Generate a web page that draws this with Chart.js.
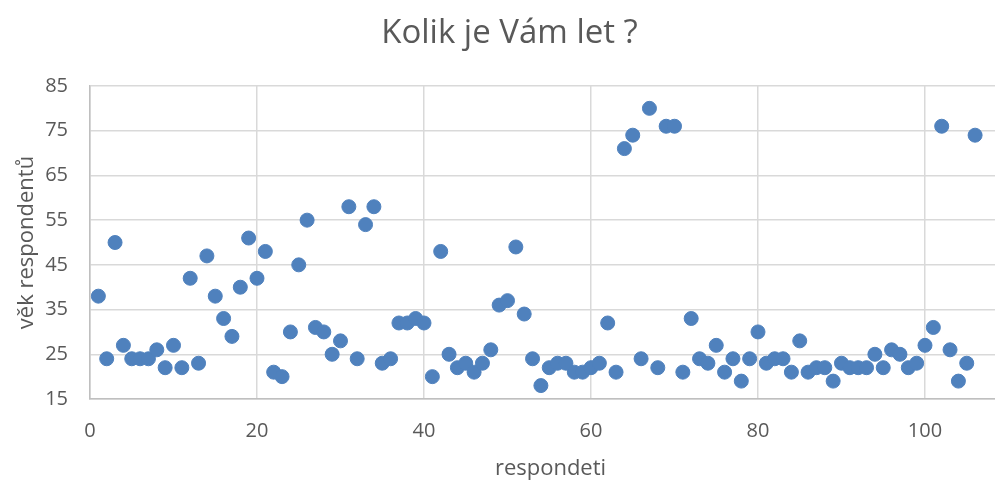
<!DOCTYPE html>
<html>
<head>
<meta charset="utf-8">
<script src="https://cdn.jsdelivr.net/npm/chart.js@4"></script>
<style>
html,body{margin:0;padding:0;background:#fff;overflow:hidden}
#wrap{width:995px;height:481px;overflow:hidden;position:relative}
#c{display:block}
</style>
</head>
<body>
<div id="wrap"><canvas id="c" width="1019" height="481"></canvas></div>
<script>
const chartTitle = 'Kolik je Vám let ?';
const xAxisTitle = 'respondeti';
const yAxisTitle = 'věk respondentů';

const respondents = [
  1,2,3,4,5,6,7,8,9,10,
  11,12,13,14,15,16,17,18,19,20,
  21,22,23,24,25,26,27,28,29,30,
  31,32,33,34,35,36,37,38,39,40,
  41,42,43,44,45,46,47,48,49,50,
  51,52,53,54,55,56,57,58,59,60,
  61,62,63,64,65,66,67,68,69,70,
  71,72,73,74,75,76,77,78,79,80,
  81,82,83,84,85,86,87,88,89,90,
  91,92,93,94,95,96,97,98,99,100,
  101,102,103,104,105,106
];
const ages = [
  38,24,50,27,24,24,24,26,22,27,
  22,42,23,47,38,33,29,40,51,42,
  48,21,20,30,45,55,31,30,25,28,
  58,24,54,58,23,24,32,32,33,32,
  20,48,25,22,23,21,23,26,36,37,
  49,34,24,18,22,23,23,21,21,22,
  23,32,21,71,74,24,80,22,76,76,
  21,33,24,23,27,21,24,19,24,30,
  23,24,24,21,28,21,22,22,19,23,
  22,22,22,25,22,26,25,22,23,27,
  31,76,26,19,23,74
];
const xTicks = [0,20,40,60,80,100];
const yTicks = [15,25,35,45,55,65,75,85];

const points = respondents.map((r, i) => ({x: r, y: ages[i]}));

const FONT = "'Open Sans', 'Noto Sans', sans-serif";
const TXT = '#595959';
const GRID = '#d9d9d9';
const AXIS = '#bfbfbf';

Chart.defaults.font.family = FONT;
Chart.defaults.color = TXT;

new Chart(document.getElementById('c'), {
  type: 'scatter',
  data: {
    datasets: [{
      data: points,
      backgroundColor: '#4f81bd',
      borderColor: '#4f81bd',
      pointRadius: 7,
      pointBorderWidth: 1,
      pointHoverRadius: 7
    }]
  },
  options: {
    responsive: false,
    animation: false,
    devicePixelRatio: 1,
    layout: { padding: { left: 0, right: 0, top: 0, bottom: 0 } },
    plugins: {
      legend: { display: false },
      tooltip: { enabled: false },
      title: {
        display: true,
        text: chartTitle,
        color: TXT,
        font: { family: FONT, size: 33, weight: 'normal' },
        padding: { top: 14, bottom: 32.4 }
      }
    },
    scales: {
      x: {
        type: 'linear',
        min: 0,
        max: 110.3,
        afterBuildTicks: s => { s.ticks = xTicks.map(v => ({ value: v })); },
        afterFit: s => { s.height = 82; s.paddingLeft = 0; s.paddingRight = 0; },
        grid: { color: GRID, lineWidth: 1.5, drawTicks: false },
        border: { color: AXIS, width: 1.5 },
        ticks: { padding: 20, color: TXT, font: { size: 20 }, maxRotation: 0 },
        title: {
          display: true, text: xAxisTitle, color: TXT,
          font: { size: 22 }, padding: { top: 0, bottom: -1 }
        }
      },
      y: {
        type: 'linear',
        min: 15,
        max: 85,
        afterBuildTicks: s => { s.ticks = yTicks.map(v => ({ value: v })); },
        afterFit: s => { s.width = 90; },
        grid: { color: GRID, lineWidth: 1.5, drawTicks: false },
        border: { color: AXIS, width: 1.5 },
        ticks: { padding: 22, color: TXT, font: { size: 20 } },
        title: {
          display: true, text: yAxisTitle, color: TXT,
          font: { size: 22 }, padding: { top: 14, bottom: 0 }
        }
      }
    }
  }
});
</script>
</body>
</html>
